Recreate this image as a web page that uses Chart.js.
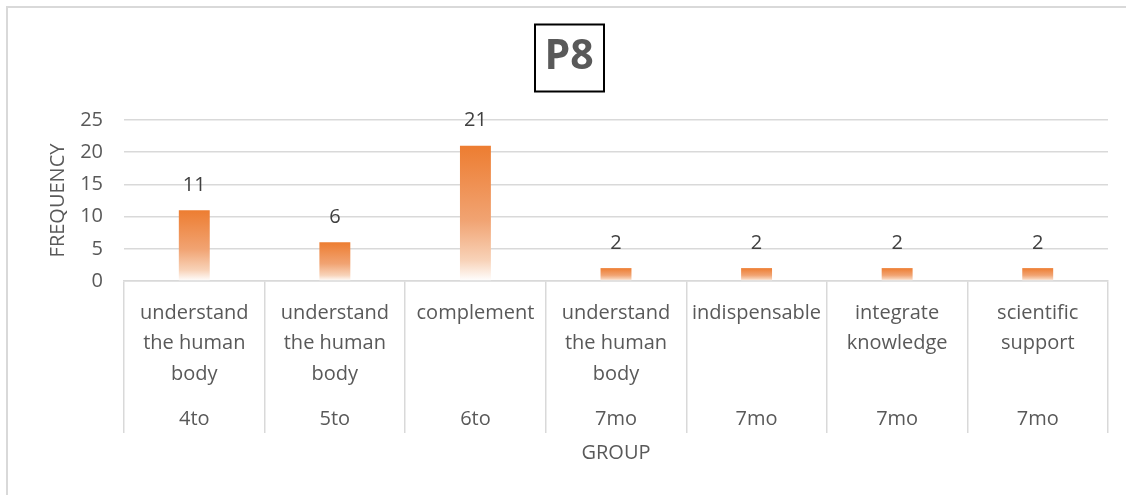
<html lang="en">
<head>
    <meta charset="UTF-8">
    <title>P8 - Frequency by group</title>
    <script src="https://cdn.jsdelivr.net/npm/chart.js@4.4.0"></script>
    <style>
        body { margin: 0; background: #fff; }
        #wrap { width: 1126px; height: 495px; }
    </style>
</head>
<body>
    <div id="wrap"><canvas id="myChart"></canvas></div>
    <script>
        // Data
        const categoryLines = [
            ['understand', 'the human', 'body'],
            ['understand', 'the human', 'body'],
            ['complement'],
            ['understand', 'the human', 'body'],
            ['indispensable'],
            ['integrate', 'knowledge'],
            ['scientific', 'support']
        ];
        const groups = ['4to', '5to', '6to', '7mo', '7mo', '7mo', '7mo'];
        const frequency = [11, 6, 21, 2, 2, 2, 2];
        const yTicks = [0, 5, 10, 15, 20, 25];

        const ORANGE = '#ED7D31';
        const TEXT = '#595959';
        const GRID = '#D9D9D9';
        const FONT = "'Open Sans', sans-serif";

        // two-level label: lines on half-line steps, group row at the bottom
        const labels = categoryLines.map((lines, i) =>
            [lines[0] || '', '', lines[1] || '', '', lines[2] || '', '', '', groups[i]]);

        // light frame round the chart (only left/top visible in the picture)
        const framePlugin = {
            id: 'frame',
            beforeDraw(chart) {
                const ctx = chart.ctx;
                ctx.save();
                ctx.strokeStyle = GRID;
                ctx.lineWidth = 2;
                ctx.strokeRect(7, 7, 1400, 800);
                ctx.restore();
            }
        };

        // black box round the title text
        const titleBoxPlugin = {
            id: 'titleBox',
            afterDraw(chart) {
                const tb = chart.titleBlock;
                if (!tb) return;
                const ctx = chart.ctx;
                const cx = tb.left + tb.width / 2;
                const cy = tb.top + 22.9 + 24.6;
                ctx.save();
                ctx.strokeStyle = '#000';
                ctx.lineWidth = 2;
                ctx.strokeRect(cx - 34, cy - 33, 69, 67);
                ctx.restore();
            }
        };

        // value labels above each bar
        const valueLabels = {
            id: 'valueLabels',
            afterDatasetsDraw(chart) {
                const ctx = chart.ctx;
                ctx.save();
                ctx.font = '20px ' + FONT;
                ctx.fillStyle = '#404040';
                ctx.textAlign = 'center';
                ctx.textBaseline = 'middle';
                chart.data.datasets.forEach((ds, di) => {
                    chart.getDatasetMeta(di).data.forEach((bar, i) => {
                        ctx.fillText(String(ds.data[i]), bar.x, bar.y - 25);
                    });
                });
                ctx.restore();
            }
        };

        const ctx = document.getElementById('myChart').getContext('2d');
        const myChart = new Chart(ctx, {
            type: 'bar',
            data: {
                labels: labels,
                datasets: [{
                    label: 'FREQUENCY',
                    data: frequency,
                    backgroundColor: (c) => {
                        const chart = c.chart;
                        if (!chart.chartArea || c.type !== 'data' || !chart.scales.y) return ORANGE;
                        const y = chart.scales.y;
                        const top = y.getPixelForValue(c.raw);
                        const base = y.getPixelForValue(0);
                        if (!isFinite(top) || !isFinite(base) || base - top < 1) return ORANGE;
                        const g = chart.ctx.createLinearGradient(0, top, 0, base);
                        g.addColorStop(0, ORANGE);
                        g.addColorStop(0.55, '#F1A372');
                        g.addColorStop(0.85, '#F8D3B9');
                        g.addColorStop(1, '#FFFFFF');
                        return g;
                    },
                    borderWidth: 0,
                    categoryPercentage: 1,
                    barPercentage: 0.22
                }]
            },
            options: {
                responsive: true,
                maintainAspectRatio: false,
                animation: false,
                layout: { padding: { left: 30, right: 18, top: 10, bottom: 10 } },
                plugins: {
                    legend: { display: false },
                    tooltip: { enabled: false },
                    title: {
                        display: true,
                        text: 'P8',
                        color: TEXT,
                        font: { family: FONT, size: 41, weight: 'bold', lineHeight: 1.2 },
                        padding: { top: 22.9, bottom: 37.9 }
                    }
                },
                scales: {
                    x: {
                        afterFit(scale) {
                            scale.height = 204;
                        },
                        grid: {
                            offset: true,
                            drawOnChartArea: false,
                            drawTicks: true,
                            tickLength: 152,
                            color: GRID,
                            lineWidth: 1.5
                        },
                        border: { display: true, color: GRID, width: 1.5 },
                        ticks: {
                            color: TEXT,
                            font: { family: FONT, size: 20, lineHeight: 0.76 },
                            padding: -127.6,
                            maxRotation: 0,
                            minRotation: 0,
                            autoSkip: false
                        },
                        title: {
                            display: true,
                            text: 'GROUP',
                            color: TEXT,
                            font: { family: FONT, size: 20, lineHeight: 1.2 },
                            padding: { top: 14, bottom: 20 }
                        }
                    },
                    y: {
                        min: yTicks[0],
                        max: yTicks[yTicks.length - 1],
                        afterBuildTicks(scale) {
                            scale.ticks = yTicks.map(v => ({ value: v }));
                        },
                        afterFit(scale) {
                            scale.width = 94;
                        },
                        grid: { color: GRID, lineWidth: 1.5, drawTicks: false },
                        border: { display: false },
                        ticks: {
                            color: TEXT,
                            font: { family: FONT, size: 20 },
                            padding: 21
                        },
                        title: {
                            display: true,
                            text: 'FREQUENCY',
                            color: TEXT,
                            font: { family: FONT, size: 20, lineHeight: 1.2 },
                            padding: { top: 16, bottom: 0 }
                        }
                    }
                }
            },
            plugins: [framePlugin, titleBoxPlugin, valueLabels]
        });
    </script>
</body>
</html>
